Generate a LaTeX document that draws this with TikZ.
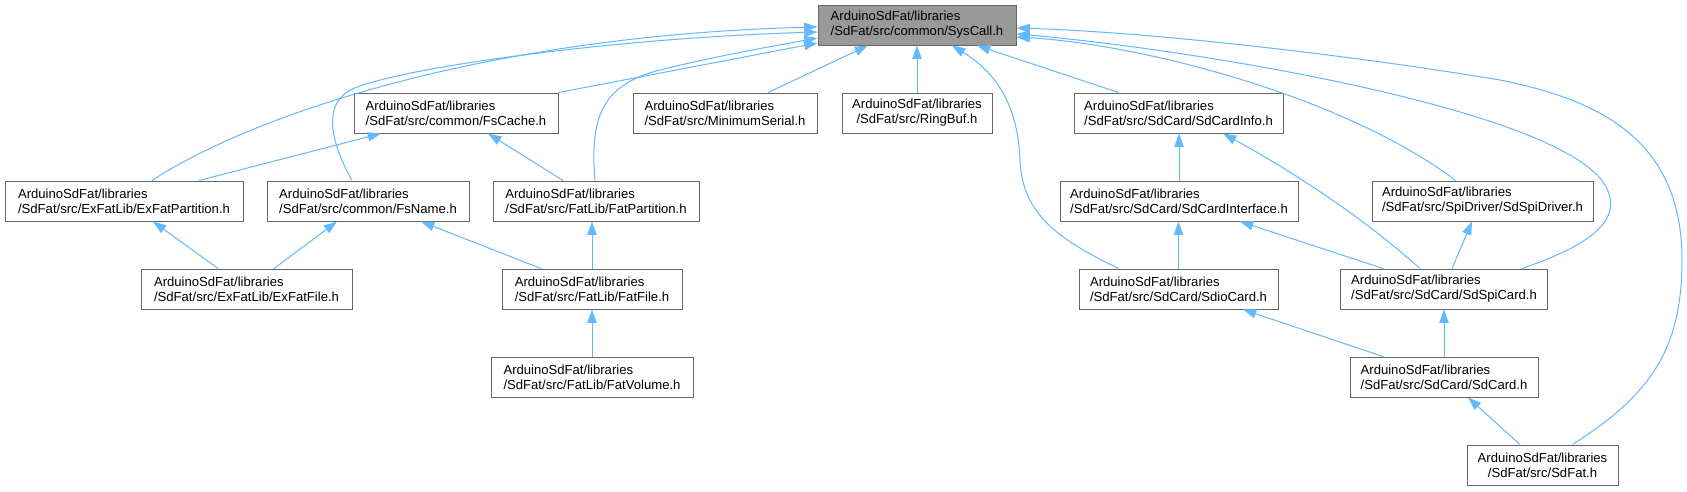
\documentclass[tikz,border=0pt]{standalone}
\usepackage{fontspec}
\setmainfont{Liberation Sans}
\usetikzlibrary{arrows.meta}
\definecolor{edgeblue}{HTML}{63B8FF}
\definecolor{boxborder}{HTML}{666666}
\definecolor{selfill}{HTML}{999999}
\begin{document}
\begin{tikzpicture}[x=1pt,y=-1pt,
  box/.style={draw=boxborder, line width=1pt, fill=white, minimum height=40pt,
    inner xsep=0pt, inner ysep=0pt, align=left,
    font=\fontsize{13.1}{15}\selectfont},
  link/.style={draw=edgeblue, line width=1pt, -{Triangle[length=13.3pt,width=9.3pt]}}]
\fill[white] (0,0) rectangle (1687,491);
\useasboundingbox (0,0) rectangle (1687,491);

% row 0
\node[box, fill=selfill, minimum width=198pt] (syscall) at (917,25) {ArduinoSdFat/libraries\\/SdFat/src/common/SysCall.h};
% row 1
\node[box, minimum width=204pt] (fscache) at (456,113) {ArduinoSdFat/libraries\\/SdFat/src/common/FsCache.h};
\node[box, minimum width=184pt] (minserial) at (725,113) {ArduinoSdFat/libraries\\/SdFat/src/MinimumSerial.h};
\node[box, align=center, minimum width=150pt] (ringbuf) at (917,113) {ArduinoSdFat/libraries\\/SdFat/src/RingBuf.h};
\node[box, minimum width=209pt] (sdcardinfo) at (1178.5,113) {ArduinoSdFat/libraries\\/SdFat/src/SdCard/SdCardInfo.h};
% row 2
\node[box, minimum width=238pt] (exfatpart) at (124,201) {ArduinoSdFat/libraries\\/SdFat/src/ExFatLib/ExFatPartition.h};
\node[box, minimum width=202pt] (fsname) at (368,201) {ArduinoSdFat/libraries\\/SdFat/src/common/FsName.h};
\node[box, minimum width=206pt] (fatpart) at (596,201) {ArduinoSdFat/libraries\\/SdFat/src/FatLib/FatPartition.h};
\node[box, minimum width=238pt] (sdcardinterface) at (1179,201) {ArduinoSdFat/libraries\\/SdFat/src/SdCard/SdCardInterface.h};
\node[box, minimum width=221pt] (sdspidriver) at (1482.5,201) {ArduinoSdFat/libraries\\/SdFat/src/SpiDriver/SdSpiDriver.h};
% row 3
\node[box, minimum width=211pt] (exfatfile) at (246.5,289) {ArduinoSdFat/libraries\\/SdFat/src/ExFatLib/ExFatFile.h};
\node[box, minimum width=180pt] (fatfile) at (592,289) {ArduinoSdFat/libraries\\/SdFat/src/FatLib/FatFile.h};
\node[box, minimum width=199pt] (sdiocard) at (1178.5,289) {ArduinoSdFat/libraries\\/SdFat/src/SdCard/SdioCard.h};
\node[box, minimum width=207pt] (sdspicard) at (1444,289) {ArduinoSdFat/libraries\\/SdFat/src/SdCard/SdSpiCard.h};
% row 4
\node[box, minimum width=202pt] (fatvolume) at (592,377) {ArduinoSdFat/libraries\\/SdFat/src/FatLib/FatVolume.h};
\node[box, minimum width=188pt] (sdcard) at (1444,377) {ArduinoSdFat/libraries\\/SdFat/src/SdCard/SdCard.h};
% row 5
\node[box, align=center, minimum width=151pt] (sdfat) at (1542.5,465) {ArduinoSdFat/libraries\\/SdFat/src/SdFat.h};

% edges into SysCall
\draw[link] ([xshift=28pt]exfatpart.north) .. controls (260,110) and (500,35) .. ([yshift=-2pt]syscall.west);
\draw[link] ([xshift=-16pt]fsname.north) .. controls (335,150) and (315,100) .. (360,86) .. controls (420,65) and (620,38) .. ([yshift=-7pt]syscall.west);
\draw[link] (fscache.north east) -- ([yshift=-18pt]syscall.west);
\draw[link] ([xshift=-1pt]fatpart.north) .. controls (590,120) and (600,85) .. (660,70) .. controls (720,55) and (780,45) .. ([yshift=-13pt]syscall.west);
\draw[link] ([xshift=43pt]minserial.north) -- ([xshift=-49pt]syscall.south);
\draw[link] (ringbuf.north) -- (syscall.south);
\draw[link] ([xshift=-60pt]sdiocard.north) .. controls (1060,240) and (1022,215) .. (1020,160) .. controls (1018,110) and (1000,75) .. ([xshift=35pt]syscall.south);
\draw[link] ([xshift=-60pt]sdcardinfo.north) -- ([xshift=60pt]syscall.south);
\draw[link] ([xshift=-27pt]sdspidriver.north) .. controls (1350,100) and (1150,45) .. ([yshift=-12pt]syscall.east);
\draw[link] ([xshift=78pt]sdspicard.north) .. controls (1590,245) and (1625,220) .. (1605,185) .. controls (1560,110) and (1200,50) .. ([yshift=-9pt]syscall.east);
\draw[link] ([xshift=30pt]sdfat.north) .. controls (1650,395) and (1682,350) .. (1682,260) .. controls (1682,140) and (1600,100) .. (1500,80) .. controls (1350,55) and (1150,32) .. ([yshift=-3pt]syscall.east);

% other edges
\draw[link] ([xshift=75pt]exfatpart.north) -- ([xshift=-75pt]fscache.south);
\draw[link] ([xshift=-33pt]fatpart.north) -- ([xshift=32pt]fscache.south);
\draw[link] ([xshift=-28.5pt]exfatfile.north) -- ([xshift=29pt]exfatpart.south);
\draw[link] ([xshift=27.5pt]exfatfile.north) -- ([xshift=-31pt]fsname.south);
\draw[link] ([xshift=-51pt]fatfile.north) -- ([xshift=53pt]fsname.south);
\draw[link] (fatfile.north) -- ([xshift=-4pt]fatpart.south);
\draw[link] (fatvolume.north) -- (fatfile.south);
\draw[link] (sdcardinterface.north) -- ([xshift=0.5pt]sdcardinfo.south);
\draw[link] ([xshift=-24pt]sdspicard.north) .. controls (1360,215) and (1290,170) .. ([xshift=44.5pt]sdcardinfo.south);
\draw[link] (sdiocard.north) -- ([xshift=-0.5pt]sdcardinterface.south);
\draw[link] ([xshift=-61pt]sdspicard.north) -- ([xshift=61pt]sdcardinterface.south);
\draw[link] ([xshift=8pt]sdspicard.north) -- ([xshift=-10.5pt]sdspidriver.south);
\draw[link] ([xshift=-61pt]sdcard.north) -- ([xshift=64.5pt]sdiocard.south);
\draw[link] (sdcard.north) -- (sdspicard.south);
\draw[link] ([xshift=-22.5pt]sdfat.north) -- ([xshift=24pt]sdcard.south);
\end{tikzpicture}
\end{document}
